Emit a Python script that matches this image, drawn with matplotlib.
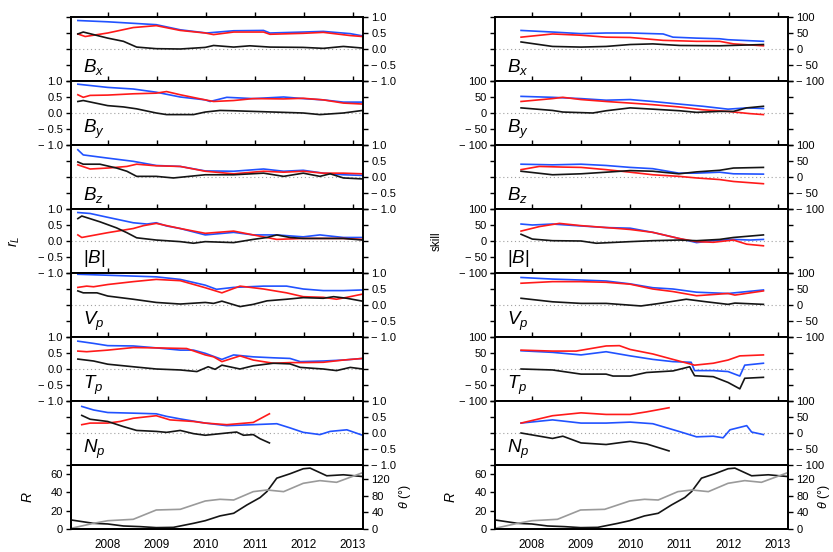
import numpy as np
import matplotlib
matplotlib.use("Agg")
import matplotlib.pyplot as plt
from matplotlib.ticker import FixedLocator, FixedFormatter

plt.rcParams['font.family'] = ['Liberation Sans', 'DejaVu Sans']
plt.rcParams['mathtext.fontset'] = 'custom'
plt.rcParams['mathtext.it'] = 'Liberation Sans:italic'
plt.rcParams['mathtext.rm'] = 'Liberation Sans'

# -----------------------------
# DATA  (year, value)
# -----------------------------
# left column: correlation r_L
L_BX_BLUE = [(2007.39, 0.89), (2008.0, 0.85), (2008.99, 0.76), (2009.48, 0.60), (2010.02, 0.50), (2010.57, 0.57),
             (2011.18, 0.58), (2011.31, 0.50), (2011.99, 0.53), (2012.40, 0.55), (2012.95, 0.48), (2013.20, 0.41)]
L_BX_RED = [(2007.39, 0.47), (2007.54, 0.39), (2008.0, 0.50), (2008.52, 0.67), (2008.99, 0.73), (2009.48, 0.58),
            (2009.99, 0.50), (2010.16, 0.45), (2010.57, 0.53), (2011.18, 0.53), (2011.31, 0.46), (2011.99, 0.49),
            (2012.40, 0.52), (2012.95, 0.42), (2013.20, 0.39)]
L_BX_BLACK = [(2007.39, 0.47), (2007.50, 0.53), (2008.0, 0.34), (2008.32, 0.24), (2008.59, 0.06), (2008.99, 0.01),
              (2009.48, 0.0), (2009.99, 0.05), (2010.16, 0.11), (2010.57, 0.06), (2010.90, 0.10), (2011.31, 0.06),
              (2011.99, 0.05), (2012.40, 0.02), (2012.81, 0.08), (2013.20, 0.03)]

L_BY_BLUE = [(2007.39, 0.90), (2008.0, 0.80), (2008.52, 0.75), (2008.99, 0.65), (2009.48, 0.50), (2009.99, 0.41),
             (2010.09, 0.36), (2010.43, 0.49), (2010.97, 0.45), (2011.59, 0.50), (2011.99, 0.45), (2012.40, 0.41),
             (2012.81, 0.34), (2013.20, 0.34)]
L_BY_RED = [(2007.39, 0.57), (2007.50, 0.49), (2007.64, 0.55), (2008.0, 0.56), (2008.52, 0.60), (2008.99, 0.62),
            (2009.20, 0.67), (2009.48, 0.57), (2009.99, 0.41), (2010.16, 0.36), (2010.57, 0.39), (2010.97, 0.45),
            (2011.59, 0.44), (2011.99, 0.46), (2012.40, 0.41), (2012.81, 0.31), (2013.20, 0.28)]
L_BY_BLACK = [(2007.39, 0.36), (2007.50, 0.39), (2008.0, 0.23), (2008.32, 0.19), (2008.59, 0.13), (2008.99, 0.0),
              (2009.20, -0.05), (2009.75, -0.05), (2009.99, 0.03), (2010.29, 0.08), (2010.57, 0.07), (2010.97, 0.05),
              (2011.59, 0.02), (2011.99, 0.0), (2012.33, -0.05), (2012.81, 0.0), (2013.20, 0.08)]

L_BZ_BLUE = [(2007.39, 0.85), (2007.50, 0.69), (2008.0, 0.59), (2008.52, 0.49), (2008.99, 0.36), (2009.48, 0.33),
             (2009.99, 0.19), (2010.57, 0.18), (2011.18, 0.25), (2011.59, 0.18), (2011.99, 0.21), (2012.40, 0.12),
             (2012.81, 0.07), (2013.20, 0.05)]
L_BZ_RED = [(2007.39, 0.38), (2007.64, 0.25), (2008.0, 0.28), (2008.39, 0.33), (2008.59, 0.40), (2008.99, 0.35),
            (2009.48, 0.33), (2009.99, 0.18), (2010.57, 0.10), (2011.18, 0.18), (2011.59, 0.15), (2011.99, 0.18),
            (2012.40, 0.12), (2012.81, 0.12), (2013.20, 0.10)]
L_BZ_BLACK = [(2007.39, 0.47), (2007.50, 0.40), (2007.84, 0.40), (2008.18, 0.28), (2008.39, 0.18), (2008.59, 0.02),
              (2008.99, 0.02), (2009.34, -0.03), (2009.99, 0.07), (2010.57, 0.07), (2011.18, 0.12), (2011.59, 0.02),
              (2011.99, 0.12), (2012.33, 0.02), (2012.54, 0.10), (2012.81, -0.03), (2013.20, -0.06)]

L_B_BLUE = [(2007.39, 0.89), (2007.64, 0.86), (2008.0, 0.74), (2008.52, 0.57), (2008.80, 0.53), (2008.99, 0.57),
            (2009.20, 0.47), (2009.48, 0.39), (2009.99, 0.19), (2010.57, 0.27), (2010.97, 0.19), (2011.45, 0.19),
            (2011.99, 0.13), (2012.33, 0.19), (2012.81, 0.11), (2013.20, 0.11)]
L_B_RED = [(2007.39, 0.19), (2007.47, 0.11), (2008.0, 0.26), (2008.52, 0.39), (2008.73, 0.48), (2008.99, 0.55),
           (2009.48, 0.39), (2009.99, 0.24), (2010.57, 0.31), (2010.97, 0.19), (2011.45, 0.05), (2011.99, 0.08),
           (2012.81, 0.08), (2013.20, 0.05)]
L_B_BLACK = [(2007.39, 0.70), (2007.47, 0.78), (2007.84, 0.60), (2008.18, 0.41), (2008.39, 0.26), (2008.59, 0.10),
             (2008.99, 0.03), (2009.48, -0.02), (2009.75, -0.07), (2009.99, -0.02), (2010.57, -0.05), (2010.97, 0.05),
             (2011.25, 0.11), (2011.45, 0.19), (2011.72, 0.11), (2011.99, 0.08), (2012.81, 0.08), (2013.20, 0.03)]

L_VP_BLUE = [(2007.39, 0.96), (2008.0, 0.93), (2008.99, 0.88), (2009.48, 0.80), (2009.99, 0.62), (2010.22, 0.49),
             (2010.57, 0.55), (2011.18, 0.59), (2011.65, 0.59), (2011.99, 0.50), (2012.40, 0.45), (2012.81, 0.45),
             (2013.20, 0.47)]
L_VP_RED = [(2007.39, 0.55), (2007.57, 0.59), (2007.71, 0.57), (2008.0, 0.64), (2008.52, 0.73), (2008.99, 0.80),
            (2009.48, 0.76), (2009.99, 0.54), (2010.33, 0.38), (2010.70, 0.59), (2011.18, 0.50), (2011.65, 0.38),
            (2011.99, 0.26), (2012.40, 0.24), (2012.67, 0.18), (2012.88, 0.24), (2013.20, 0.34)]
L_VP_BLACK = [(2007.39, 0.44), (2007.50, 0.38), (2007.78, 0.38), (2008.0, 0.28), (2008.52, 0.18), (2008.99, 0.08),
              (2009.48, 0.03), (2009.99, 0.08), (2010.16, 0.05), (2010.33, 0.12), (2010.70, -0.05), (2010.97, 0.02),
              (2011.25, 0.13), (2011.65, 0.18), (2011.99, 0.23), (2012.40, 0.21), (2012.61, 0.26), (2012.88, 0.21),
              (2013.20, 0.12)]

L_TP_BLUE = [(2007.39, 0.87), (2007.71, 0.80), (2008.0, 0.73), (2008.52, 0.72), (2008.99, 0.66), (2009.48, 0.59),
             (2009.75, 0.59), (2009.99, 0.49), (2010.33, 0.30), (2010.57, 0.44), (2010.97, 0.38), (2011.38, 0.35),
             (2011.72, 0.33), (2011.93, 0.23), (2012.40, 0.25), (2012.81, 0.28), (2013.20, 0.33)]
L_TP_RED = [(2007.39, 0.56), (2007.57, 0.54), (2008.0, 0.59), (2008.52, 0.67), (2008.99, 0.66), (2009.61, 0.64),
            (2009.99, 0.44), (2010.16, 0.38), (2010.33, 0.23), (2010.70, 0.41), (2010.97, 0.28), (2011.38, 0.18),
            (2011.72, 0.20), (2011.99, 0.20), (2012.40, 0.21), (2012.81, 0.28), (2013.20, 0.33)]
L_TP_BLACK = [(2007.39, 0.31), (2007.71, 0.25), (2008.0, 0.15), (2008.52, 0.07), (2008.99, 0.0), (2009.48, -0.03),
              (2009.82, -0.08), (2010.05, 0.07), (2010.19, -0.01), (2010.33, 0.12), (2010.70, 0.0), (2010.97, 0.10),
              (2011.38, 0.18), (2011.72, 0.16), (2011.93, 0.05), (2012.40, 0.0), (2012.67, -0.05), (2012.95, 0.05),
              (2013.20, 0.0)]

L_NP_BLUE = [(2007.47, 0.83), (2007.71, 0.72), (2008.0, 0.64), (2008.52, 0.62), (2008.99, 0.60), (2009.20, 0.52),
             (2009.48, 0.44), (2009.99, 0.31), (2010.43, 0.23), (2010.97, 0.26), (2011.45, 0.29), (2011.72, 0.16),
             (2011.99, 0.02), (2012.33, -0.05), (2012.54, 0.05), (2012.88, 0.10), (2013.20, -0.07)]
L_NP_RED = [(2007.47, 0.26), (2007.64, 0.31), (2008.0, 0.31), (2008.25, 0.36), (2008.52, 0.46), (2008.99, 0.54),
            (2009.27, 0.41), (2009.75, 0.36), (2009.99, 0.31), (2010.43, 0.26), (2010.97, 0.33), (2011.30, 0.60)]
L_NP_BLACK = [(2007.47, 0.55), (2007.64, 0.43), (2008.0, 0.36), (2008.32, 0.20), (2008.59, 0.08), (2008.99, 0.05),
              (2009.20, 0.02), (2009.48, 0.08), (2009.75, -0.02), (2009.99, -0.07), (2010.43, 0.0), (2010.63, 0.03),
              (2010.77, -0.07), (2010.97, -0.05), (2011.11, -0.18), (2011.30, -0.31)]

# right column: skill
R_BX_BLUE = [(2007.78, 58), (2008.42, 53), (2009.0, 48), (2009.51, 50), (2010.0, 50), (2010.67, 47), (2010.87, 37),
             (2011.35, 34), (2011.82, 32), (2011.99, 29), (2012.71, 24)]
R_BX_RED = [(2007.78, 37), (2008.42, 47), (2009.0, 43), (2009.51, 37), (2010.0, 36), (2010.67, 27), (2011.35, 24),
            (2011.82, 24), (2012.10, 16), (2012.71, 10)]
R_BX_BLACK = [(2007.78, 22), (2008.42, 8), (2009.0, 6), (2009.51, 8), (2010.0, 14), (2010.46, 16), (2011.01, 11),
              (2011.82, 10), (2012.71, 14)]

R_BY_BLUE = [(2007.78, 52), (2008.42, 49), (2009.0, 45), (2009.51, 40), (2010.0, 42), (2010.46, 36), (2010.99, 28),
             (2011.48, 21), (2011.99, 12), (2012.37, 16), (2012.71, 14)]
R_BY_RED = [(2007.78, 36), (2008.42, 45), (2008.63, 49), (2009.0, 42), (2009.51, 36), (2010.0, 31), (2010.46, 26),
            (2010.99, 19), (2011.48, 10), (2011.99, 5), (2012.44, -2), (2012.71, -5)]
R_BY_BLACK = [(2007.78, 16), (2008.42, 8), (2008.63, 3), (2009.24, 0), (2009.51, 7), (2010.0, 16), (2010.46, 12),
              (2011.01, 7), (2011.35, 2), (2011.82, 5), (2012.10, 5), (2012.37, 16), (2012.71, 21)]

R_BZ_BLUE = [(2007.78, 40), (2008.42, 38), (2009.0, 40), (2009.51, 36), (2010.0, 30), (2010.46, 26), (2010.99, 12),
             (2011.35, 12), (2011.82, 15), (2012.10, 10), (2012.71, 9)]
R_BZ_RED = [(2007.78, 23), (2008.15, 33), (2008.63, 31), (2009.0, 30), (2009.51, 23), (2010.0, 15), (2010.46, 7),
            (2010.99, 2), (2011.35, -3), (2011.82, -8), (2012.10, -14), (2012.71, -21)]
R_BZ_BLACK = [(2007.78, 18), (2008.42, 7), (2009.0, 10), (2009.51, 15), (2010.0, 20), (2010.46, 18), (2010.99, 10),
              (2011.35, 16), (2011.82, 21), (2012.10, 28), (2012.71, 30)]

R_B_BLUE = [(2007.78, 53), (2008.01, 50), (2008.42, 53), (2009.0, 47), (2009.51, 42), (2010.0, 40), (2010.46, 27),
            (2010.99, 8), (2011.35, -5), (2011.69, 1), (2012.10, 5), (2012.44, 3), (2012.71, 5)]
R_B_RED = [(2007.78, 31), (2008.15, 45), (2008.56, 55), (2009.0, 48), (2009.51, 42), (2010.0, 36), (2010.46, 27),
           (2010.99, 8), (2011.35, -2), (2011.69, -4), (2012.10, 3), (2012.37, -10), (2012.71, -15)]
R_B_BLACK = [(2007.78, 21), (2008.01, 6), (2008.42, 1), (2009.0, 0), (2009.31, -7), (2010.0, -2), (2010.46, 1),
             (2010.99, 3), (2011.35, 1), (2011.82, 5), (2012.10, 11), (2012.71, 19)]

R_VP_BLUE = [(2007.78, 86), (2008.42, 81), (2009.0, 78), (2009.51, 75), (2010.0, 66), (2010.46, 54), (2010.87, 50),
             (2011.35, 40), (2011.99, 36), (2012.71, 47)]
R_VP_RED = [(2007.78, 68), (2008.42, 73), (2009.0, 73), (2009.51, 71), (2010.0, 65), (2010.46, 50), (2010.87, 42),
            (2011.35, 29), (2011.99, 36), (2012.13, 31), (2012.71, 44)]
R_VP_BLACK = [(2007.78, 21), (2008.42, 10), (2009.0, 5), (2009.51, 5), (2010.22, -3), (2010.60, 5), (2011.14, 18),
              (2011.55, 10), (2011.99, 2), (2012.13, 6), (2012.71, 2)]

R_TP_BLUE = [(2007.78, 57), (2008.42, 52), (2009.0, 44), (2009.51, 54), (2010.0, 41), (2010.46, 30), (2010.87, 23),
             (2011.24, 21), (2011.31, -5), (2011.69, -5), (2011.99, -8), (2012.23, -22), (2012.33, 12), (2012.71, 18)]
R_TP_RED = [(2007.78, 59), (2008.42, 56), (2008.90, 56), (2009.51, 72), (2009.78, 73), (2010.0, 61), (2010.46, 47),
            (2010.87, 30), (2011.31, 12), (2011.69, 18), (2011.99, 28), (2012.23, 41), (2012.71, 44)]
R_TP_BLACK = [(2007.78, 0), (2008.42, -3), (2009.0, -16), (2009.51, -16), (2009.65, -22), (2010.0, -22),
              (2010.33, -11), (2010.87, -6), (2011.21, 7), (2011.31, -21), (2011.69, -24), (2011.99, -42),
              (2012.23, -62), (2012.33, -29), (2012.71, -26)]

R_NP_BLUE = [(2007.78, 31), (2008.42, 41), (2009.0, 31), (2009.51, 31), (2010.0, 34), (2010.46, 29), (2010.99, 5),
             (2011.35, -12), (2011.69, -10), (2011.89, -15), (2012.03, 10), (2012.37, 23), (2012.47, 3), (2012.71, -5)]
R_NP_RED = [(2007.78, 31), (2008.42, 54), (2009.0, 63), (2009.51, 58), (2010.0, 58), (2010.33, 66), (2010.79, 79)]
R_NP_BLACK = [(2007.78, 0), (2008.42, -17), (2008.63, -10), (2009.0, -31), (2009.51, -36), (2010.0, -26),
              (2010.33, -34), (2010.79, -56)]

# bottom panel: R (black, left axis) and theta (grey, right axis)
SUN_R = [(2007.25, 9.9), (2007.71, 6.2), (2008.0, 5.5), (2008.32, 3.3), (2008.66, 2.6), (2008.99, 1.5),
         (2009.34, 1.8), (2009.48, 3.3), (2009.75, 6.2), (2009.99, 9.1), (2010.29, 14.3), (2010.57, 17.2),
         (2010.84, 26.3), (2011.11, 34.4), (2011.25, 41.0), (2011.45, 55.6), (2011.72, 60.4), (2011.99, 65.9),
         (2012.13, 66.6), (2012.47, 58.2), (2012.81, 59.3), (2013.20, 57.4)]
SUN_THETA = [(2007.25, 1.6), (2007.71, 13.7), (2008.0, 20), (2008.52, 23.4), (2008.99, 45.9), (2009.48, 47.5),
             (2009.99, 67.6), (2010.29, 71.7), (2010.57, 70), (2010.97, 90.2), (2011.25, 94.2), (2011.59, 90.2),
             (2011.99, 110.3), (2012.33, 116.8), (2012.67, 112.7), (2013.25, 138)]

PANEL_LABELS = [r'$B_x$', r'$B_y$', r'$B_z$', r'$|B|$', r'$V_p$', r'$T_p$', r'$N_p$']
LEFT_SERIES = [(L_BX_BLUE, L_BX_RED, L_BX_BLACK), (L_BY_BLUE, L_BY_RED, L_BY_BLACK),
               (L_BZ_BLUE, L_BZ_RED, L_BZ_BLACK), (L_B_BLUE, L_B_RED, L_B_BLACK),
               (L_VP_BLUE, L_VP_RED, L_VP_BLACK), (L_TP_BLUE, L_TP_RED, L_TP_BLACK),
               (L_NP_BLUE, L_NP_RED, L_NP_BLACK)]
RIGHT_SERIES = [(R_BX_BLUE, R_BX_RED, R_BX_BLACK), (R_BY_BLUE, R_BY_RED, R_BY_BLACK),
                (R_BZ_BLUE, R_BZ_RED, R_BZ_BLACK), (R_B_BLUE, R_B_RED, R_B_BLACK),
                (R_VP_BLUE, R_VP_RED, R_VP_BLACK), (R_TP_BLUE, R_TP_RED, R_TP_BLACK),
                (R_NP_BLUE, R_NP_RED, R_NP_BLACK)]

YEARS = [2008, 2009, 2010, 2011, 2012, 2013]
XLIM = (2007.25, 2013.21)

# -----------------------------
# STYLE
# -----------------------------
BLUE = '#2152ff'
RED = '#ff1a1a'
BLACK = '#151515'
GREY = '#9a9a9a'
W, H = 833, 552
TOP, PH = 17, 64
TICK_FS = 8
LW = 1.2


def xy(pairs):
    arr = np.array(pairs, dtype=float)
    return arr[:, 0], arr[:, 1]


def style_axis(ax):
    for s in ax.spines.values():
        s.set_linewidth(1.4)
    ax.set_xlim(*XLIM)
    ax.xaxis.set_major_locator(FixedLocator(YEARS))
    ax.tick_params(axis='x', top=True, bottom=False, labelbottom=False, labeltop=False,
                   direction='out', length=3.5, width=1.0)
    ax.tick_params(axis='y', left=True, right=True, direction='out', length=3.5, width=1.0,
                   labelsize=TICK_FS, pad=2.5)


fig = plt.figure(figsize=(W / 100, H / 100), dpi=100)

columns = [
    (71, 292, LEFT_SERIES, 1.0, ['\u2212 1.0', '\u2212 0.5', '0.0', '0.5', '1.0'], 1.115),
    (495, 293, RIGHT_SERIES, 100.0, ['\u2212 100', '\u2212 50', '0', '50', '100'], 1.095),
]

for x0, width, series, lim, ticklabels, theta_x in columns:
    for i, (blue, red, black) in enumerate(series):
        bottom_px = TOP + PH * (i + 1)
        ax = fig.add_axes([x0 / W, 1 - bottom_px / H, width / W, PH / H])
        style_axis(ax)
        ax.axhline(0, color='#a0a0a0', lw=0.8, ls=(0, (1, 2.5)), zorder=1)
        for pairs, c in [(blue, BLUE), (red, RED), (black, BLACK)]:
            t, v = xy(pairs)
            ax.plot(t, v, color=c, lw=LW, zorder=2)
        ax.set_ylim(-lim, lim)
        ticks = [-lim, -lim / 2, 0, lim / 2, lim]
        ax.yaxis.set_major_locator(FixedLocator(ticks))
        ax.yaxis.set_major_formatter(FixedFormatter(ticklabels))
        labels_right = (i % 2 == 0)
        ax.tick_params(axis='y', labelleft=not labels_right, labelright=labels_right)
        ax.text(0.04, 0.07, PANEL_LABELS[i], transform=ax.transAxes, fontsize=13.5,
                ha='left', va='bottom')

    # bottom panel: R and theta
    bottom_px = TOP + PH * 8
    ax = fig.add_axes([x0 / W, 1 - bottom_px / H, width / W, PH / H])
    style_axis(ax)
    ax.tick_params(axis='x', top=False, bottom=False, labelbottom=True, labelsize=8.5, pad=4)
    ax.xaxis.set_major_formatter(FixedFormatter([str(y) for y in YEARS]))
    ax.tick_params(axis='y', right=False)
    t, v = xy(SUN_R)
    ax.plot(t, v, color=BLACK, lw=LW, zorder=3)
    ax.set_ylim(0, 70)
    ax.yaxis.set_major_locator(FixedLocator([0, 20, 40, 60]))
    ax.set_ylabel(r'$R$', fontsize=10)
    ax.yaxis.set_label_coords(-0.125, 0.5)

    ax2 = ax.twinx()
    for s in ax2.spines.values():
        s.set_linewidth(1.4)
    t, v = xy(SUN_THETA)
    ax2.plot(t, v, color=GREY, lw=LW, zorder=2)
    ax2.set_xlim(*XLIM)
    ax2.set_ylim(0, 154.5)
    ax2.yaxis.set_major_locator(FixedLocator([0, 40, 80, 120]))
    ax2.tick_params(axis='y', direction='out', length=3.5, width=1.0, labelsize=TICK_FS, pad=2.5)
    ax2.set_ylabel(r'$\theta$ (°)', fontsize=9, rotation=90)
    ax2.yaxis.set_label_coords(theta_x, 0.5)

fig.text(14 / W, 1 - 241 / H, r'$r_L$', rotation=90, fontsize=10, ha='center', va='center')
fig.text(437 / W, 1 - 241 / H, 'skill', rotation=90, fontsize=8.5, ha='center', va='center')

plt.savefig('out.png', dpi=100)
plt.close()
